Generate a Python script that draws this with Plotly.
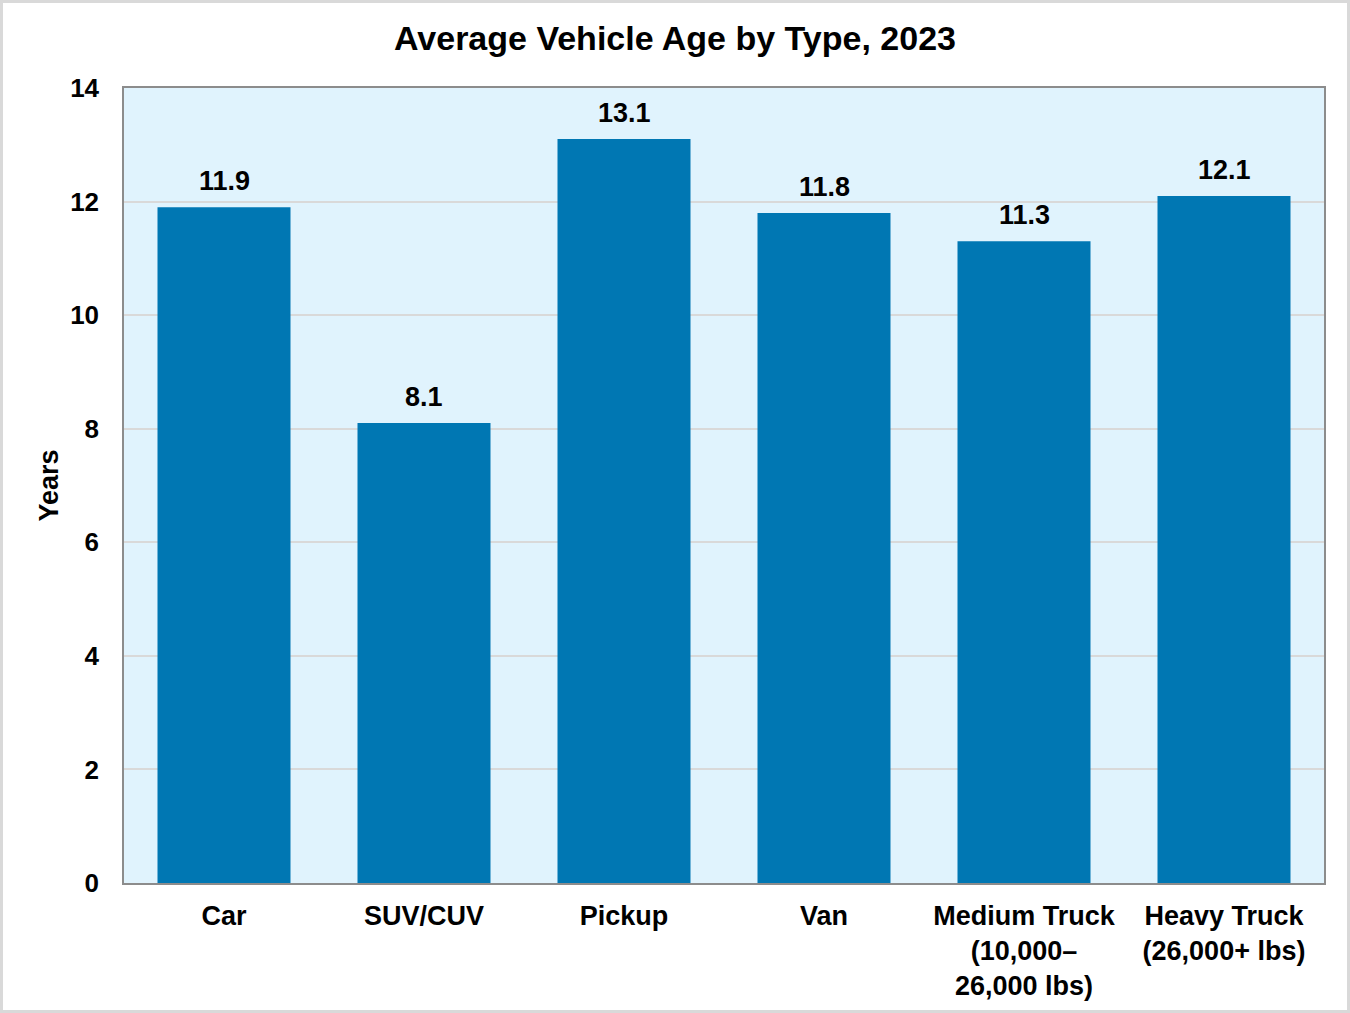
import plotly.graph_objects as go

# chart data
categories = ["Car", "SUV/CUV", "Pickup", "Van",
              "Medium Truck<br>(10,000–<br>26,000 lbs)",
              "Heavy Truck<br>(26,000+ lbs)"]
avg_age = [11.9, 8.1, 13.1, 11.8, 11.3, 12.1]
y_ticks = [0, 2, 4, 6, 8, 10, 12, 14]

W, H = 1350, 1013
ml, mr, mt, mb = 124, 26, 88, 130
pw, ph = W - ml - mr, H - mt - mb

bar_color = "#0077B3"
font = "Liberation Sans, Arial, sans-serif"

fig = go.Figure()
fig.add_trace(go.Bar(
    x=categories,
    y=avg_age,
    marker=dict(color=bar_color, line=dict(width=0)),
    hoverinfo="x+y",
))

# value labels above bars
for c, v in zip(categories, avg_age):
    fig.add_annotation(
        x=c, y=v, text="%.1f" % v,
        showarrow=False, yanchor="bottom", yshift=9,
        font=dict(size=27, color="black", family=font, weight="bold"),
    )

# light grey frame round the whole picture
fig.add_shape(
    type="rect", xref="paper", yref="paper",
    x0=-ml / pw + 1.5 / pw, x1=1 + mr / pw - 1.5 / pw,
    y0=-mb / ph + 1.5 / ph, y1=1 + mt / ph - 1.5 / ph,
    line=dict(color="#D9D9D9", width=3), layer="below",
)

fig.update_layout(
    width=W, height=H,
    margin=dict(l=ml, r=mr, t=mt, b=mb, autoexpand=False),
    paper_bgcolor="white",
    plot_bgcolor="#E0F3FD",
    bargap=0.335,
    showlegend=False,
    font=dict(family=font, color="black"),
    title=dict(
        text="Average Vehicle Age by Type, 2023",
        x=0.5, xanchor="center", y=1 - 38 / H, yanchor="middle",
        font=dict(size=34, color="black", weight="bold"),
    ),
    xaxis=dict(
        automargin=False,
        tickfont=dict(size=27, color="black", weight="bold"),
        ticks="outside", ticklen=8, tickcolor="rgba(0,0,0,0)",
        showline=True, linecolor="#8C8C8C", linewidth=1.5,
        mirror=True, showgrid=False,
    ),
    yaxis=dict(
        automargin=False,
        range=[0, 14], tickvals=y_ticks,
        tickfont=dict(size=26, color="black", weight="bold"),
        showline=True, linecolor="#8C8C8C", linewidth=1.5, mirror=True,
        showgrid=True, gridcolor="#D9D9D9", gridwidth=1.5,
        ticks="outside", ticklen=18, tickcolor="rgba(0,0,0,0)",
        zeroline=False,
        title=dict(text="Years", font=dict(size=27, weight="bold"), standoff=4),
    ),
)

fig.write_html("out.html", config={"displayModeBar": False},
               post_script="document.body.style.margin='0';")
